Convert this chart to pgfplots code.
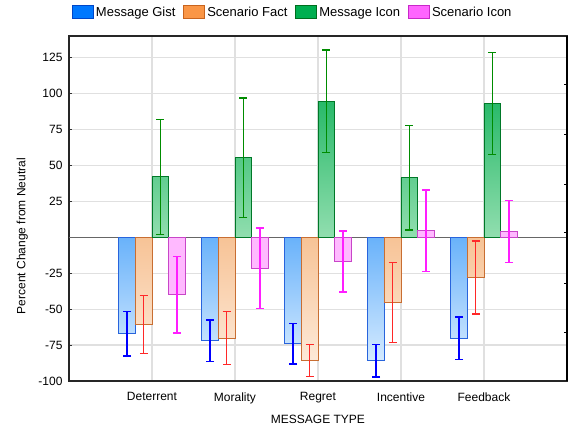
\documentclass[border=0pt]{standalone}
\usepackage{pgfplots}
\pgfplotsset{compat=1.18}
\usepackage{pgfplotstable}
\usepackage{fontspec}
\setmainfont{Liberation Sans}

\definecolor{gistTop}{RGB}{105,178,250}
\definecolor{gistBot}{RGB}{212,234,255}
\definecolor{gistEdge}{RGB}{40,100,220}
\definecolor{gistErr}{RGB}{0,0,255}
\definecolor{gistLeg}{RGB}{0,120,255}
\definecolor{gistLegE}{RGB}{0,70,200}
\definecolor{factTop}{RGB}{247,195,150}
\definecolor{factBot}{RGB}{253,233,215}
\definecolor{factEdge}{RGB}{200,110,50}
\definecolor{factErr}{RGB}{255,40,40}
\definecolor{factLeg}{RGB}{250,150,70}
\definecolor{factLegE}{RGB}{200,100,30}
\definecolor{iconTop}{RGB}{40,185,105}
\definecolor{iconBot}{RGB}{145,222,175}
\definecolor{iconEdge}{RGB}{0,120,40}
\definecolor{iconErr}{RGB}{0,140,0}
\definecolor{iconLeg}{RGB}{0,175,80}
\definecolor{iconLegE}{RGB}{0,110,30}
\definecolor{scenFill}{RGB}{255,185,255}
\definecolor{scenEdge}{RGB}{200,70,200}
\definecolor{scenErr}{RGB}{255,30,255}
\definecolor{scenLeg}{RGB}{255,100,255}
\definecolor{scenLegE}{RGB}{200,40,200}

\pgfplotstableread{
x gist gerr fact ferr icon ierr scen serr
0 -67.1 15.4 -60.7 20.0 42.0 40.0 -40.1 26.6
1 -72.0 14.5 -70.2 18.5 55.3 41.5 -21.5 28.0
2 -74.1 14.1 -85.9 11.1 94.7 35.6 -16.9 21.2
3 -85.9 11.3 -45.4 27.9 41.4 36.4 4.6 28.4
4 -70.2 14.8 -28.0 25.5 93.0 35.6 3.9 21.5
}\datatable

\pgfplotsset{
  errplot/.style={color=#1, draw=none, mark=none, forget plot,
    error bars/.cd, y dir=both, y explicit,
    error bar style={draw=#1, solid, line width=1.4pt},
    error mark options={rotate=90, mark size=4pt, line width=1.4pt, draw=#1}},
}

\begin{document}
\begin{tikzpicture}
\begin{axis}[
  width=498pt, height=345pt, scale only axis,
  xmin=-1, xmax=5, ymin=-100, ymax=140,
  xtick={0,...,4}, xticklabels={Deterrent,Morality,Regret,Incentive,Feedback},
  ytick={-100,-75,-50,-25,25,50,75,100,125},
  ytick pos=left,
  grid=major, major grid style={black!12, line width=1.2pt},
  tick align=inside, major tick length=3pt,
  x tick style={draw=none}, y tick style={black!80, line width=0.8pt},
  axis line style={black!85, line width=1.2pt},
  tick label style={font=\fontsize{12}{14}\selectfont},
  /pgf/number format/assume math mode=true,
  xticklabel style={yshift=-8pt},
  yticklabel style={xshift=-3pt},
  xlabel={MESSAGE TYPE}, ylabel={Percent Change from Neutral},
  label style={font=\fontsize{12}{14}\selectfont},
  xlabel style={at={(axis description cs:0.5,-0.11)}, anchor=center},
  ylabel style={at={(axis description cs:-0.094,0.42)}, anchor=center},
  legend style={at={(axis description cs:0.0,1.04)}, anchor=south west, draw=none, fill=none,
    font=\fontsize{13}{15}\selectfont, legend columns=4,
    /tikz/every even column/.append style={column sep=6pt}},
  legend cell align=left,
]
\addlegendimage{legend image code/.code={\draw[fill=gistLeg,draw=gistLegE,line width=0.8pt] (0pt,-6pt) rectangle (21pt,7pt);}}
\addlegendentry{Message Gist}
\addlegendimage{legend image code/.code={\draw[fill=factLeg,draw=factLegE,line width=0.8pt] (0pt,-6pt) rectangle (21pt,7pt);}}
\addlegendentry{Scenario Fact}
\addlegendimage{legend image code/.code={\draw[fill=iconLeg,draw=iconLegE,line width=0.8pt] (0pt,-6pt) rectangle (21pt,7pt);}}
\addlegendentry{Message Icon}
\addlegendimage{legend image code/.code={\draw[fill=scenLeg,draw=scenLegE,line width=0.8pt] (0pt,-6pt) rectangle (21pt,7pt);}}
\addlegendentry{Scenario Icon}

\addplot[black!60, line width=1.5pt, forget plot] coordinates {(-1,0) (5,0)};

\addplot[ybar, bar width=0.2, bar shift=-0.3, draw=gistEdge, line width=0.8pt, top color=gistTop, bottom color=gistBot, forget plot] table[x=x,y=gist]{\datatable};
\addplot[ybar, bar width=0.2, bar shift=-0.1, draw=factEdge, line width=0.8pt, top color=factTop, bottom color=factBot, forget plot] table[x=x,y=fact]{\datatable};
\addplot[ybar, bar width=0.2, bar shift=0.1, draw=iconEdge, line width=0.8pt, top color=iconTop, bottom color=iconBot, forget plot] table[x=x,y=icon]{\datatable};
\addplot[ybar, bar width=0.2, bar shift=0.3, draw=scenEdge, line width=0.8pt, fill=scenFill, forget plot] table[x=x,y=scen]{\datatable};

\addplot[errplot=gistErr] table[x expr=\thisrow{x}-0.3, y=gist, y error=gerr]{\datatable};
\addplot[errplot=factErr] table[x expr=\thisrow{x}-0.1, y=fact, y error=ferr]{\datatable};
\addplot[errplot=iconErr] table[x expr=\thisrow{x}+0.1, y=icon, y error=ierr]{\datatable};
\addplot[errplot=scenErr] table[x expr=\thisrow{x}+0.3, y=scen, y error=serr]{\datatable};
\end{axis}
\begin{axis}[
  width=498pt, height=345pt, scale only axis,
  xmin=-1, xmax=5, ymin=-100, ymax=140,
  axis x line=none, axis y line*=right,
  ytick={-66.3,-31.9,3.2,37.0,71.5,106.5}, yticklabels={},
  tick align=inside, major tick length=3pt,
  axis line style={black, line width=1.2pt},
  ytick style={black, line width=0.8pt},
]
\end{axis}
\pgfresetboundingbox
\path ([shift={(-69pt,-48pt)}]current axis.south west) rectangle ++(568pt,429pt);
\end{tikzpicture}
\end{document}
